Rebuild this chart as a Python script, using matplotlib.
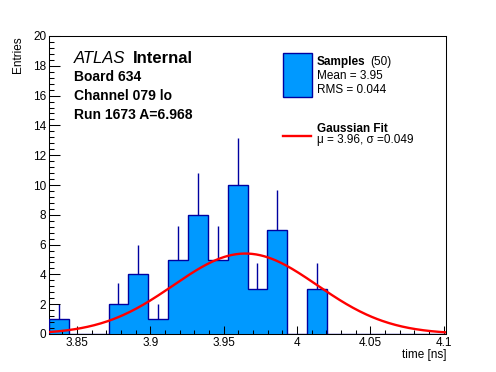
import matplotlib
matplotlib.use("Agg")
import matplotlib.pyplot as plt
from matplotlib.patches import Rectangle
from matplotlib.lines import Line2D
import numpy as np

# histogram of time samples (20 bins between t_lo and t_hi)
t_lo = 3.831
t_hi = 4.1017
counts = np.array([1, 0, 0, 2, 4, 1, 5, 8, 5, 10, 3, 7, 0, 3, 0, 0, 0, 0, 0, 0])
n_samples = 50
mean = 3.95
rms = 0.044

# gaussian fit parameters
fit_amp = 5.4
fit_mu = 3.9649
fit_sigma = 0.049

x_ticks = [3.85, 3.9, 3.95, 4.0, 4.05, 4.1]
x_ticklabels = ["3.85", "3.9", "3.95", "4", "4.05", "4.1"]
y_ticks = [0, 2, 4, 6, 8, 10, 12, 14, 16, 18, 20]

FILL = "#0099ff"
EDGE = "#0000a0"

plt.rcParams['font.family'] = ['Liberation Sans', 'DejaVu Sans']
plt.rcParams['font.size'] = 8.5

W, H = 496, 372
fig = plt.figure(figsize=(W/100, H/100), dpi=100)
ax = fig.add_axes([49/W, 1-334/H, (446-49)/W, (334-36)/H])

def fx(px):
    return px/W

def fy(py):
    return 1-py/H

edges = np.linspace(t_lo, t_hi, len(counts)+1)
centers = 0.5*(edges[1:]+edges[:-1])
nz = counts > 0

ax.errorbar(centers[nz], counts[nz], yerr=np.sqrt(counts[nz]), fmt="none",
            ecolor=EDGE, elinewidth=1.0, capsize=0, zorder=1)
ax.stairs(counts, edges, fill=True, color=FILL, zorder=2)
ax.stairs(counts, edges, color=EDGE, linewidth=1.0, zorder=3)

xs = np.linspace(t_lo, t_hi, 300)
ax.plot(xs, fit_amp*np.exp(-0.5*((xs-fit_mu)/fit_sigma)**2), color="red",
        linewidth=1.7, zorder=4)

ax.set_xlim(t_lo, t_hi)
ax.set_ylim(0, 20)
ax.set_axisbelow(False)
ax.set_xticks(x_ticks)
ax.set_xticklabels(x_ticklabels)
ax.set_xticks(np.arange(3.84, 4.1, 0.01), minor=True)
ax.set_yticks(y_ticks)
ax.set_yticks(np.arange(0, 20.01, 0.4), minor=True)
ax.xaxis.set_tick_params(which='major', size=6, width=0.75, direction='in', pad=2.5)
ax.xaxis.set_tick_params(which='minor', size=3, width=0.75, direction='in')
ax.yaxis.set_tick_params(which='major', size=7.7, width=0.75, direction='in', pad=2)
ax.yaxis.set_tick_params(which='minor', size=3.8, width=0.75, direction='in')
for s in ax.spines.values():
    s.set_linewidth(0.75)

ax.set_xlabel("time [ns]", loc='right')
ax.xaxis.set_label_coords(1.0, -0.049)
ax.set_ylabel("Entries", loc='top')
ax.yaxis.set_label_coords(-0.064, 1.0)

# ATLAS label block
fig.text(fx(74), fy(63), "ATLAS", fontsize=12, style='italic', va='baseline')
fig.text(fx(133), fy(63), "Internal", fontsize=12, fontweight='bold', va='baseline')
fig.text(fx(74), fy(81), "Board 634", fontsize=10, fontweight='bold', va='baseline')
fig.text(fx(74), fy(100), "Channel 079 lo", fontsize=10, fontweight='bold', va='baseline')
fig.text(fx(74), fy(119), "Run 1673 A=6.968", fontsize=10, fontweight='bold', va='baseline')

# legend
fig.add_artist(Rectangle((fx(283), fy(97)), (312-283)/W, (97-53)/H,
                         transform=fig.transFigure, facecolor=FILL,
                         edgecolor=EDGE, linewidth=1.0))
fig.text(fx(317), fy(65), "Samples", fontweight='bold', va='baseline')
fig.text(fx(370), fy(65), "(%d)" % n_samples, va='baseline')
fig.text(fx(317), fy(79), "Mean = %.2f" % mean, va='baseline')
fig.text(fx(317), fy(93), "RMS = %.3f" % rms, va='baseline')

fig.add_artist(Line2D([fx(283), fx(311)], [fy(136), fy(136)],
                      transform=fig.transFigure, color="red", linewidth=1.7))
fig.text(fx(317), fy(132), "Gaussian Fit", fontweight='bold', va='baseline')
fig.text(fx(317), fy(143.5), "μ = %.2f, σ =%.3f" % (fit_mu, fit_sigma), va='baseline')

fig.savefig("out.png", dpi=100)
